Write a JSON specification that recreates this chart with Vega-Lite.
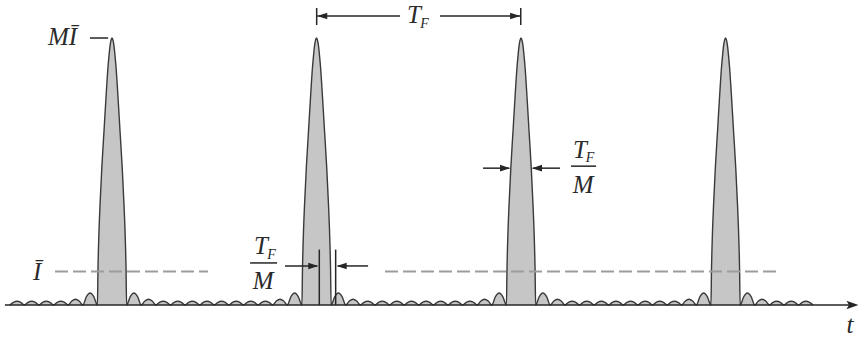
{
 "$schema": "https://vega.github.io/schema/vega-lite/v6.json",
 "width": 863, "height": 338, "padding": 0, "autosize": {"type": "none"},
 "background": "white",
 "config": {"view": {"stroke": null}},
 "datasets": {
  "curve": [
   {"t":-7,"I":0},
   {"t":-6.75,"I":0.08},{"t":-6.5,"I":0.11},{"t":-6.25,"I":0.08},{"t":-6,"I":0},
   {"t":-5.75,"I":0.08},{"t":-5.5,"I":0.11},{"t":-5.25,"I":0.08},{"t":-5,"I":0},
   {"t":-4.75,"I":0.08},{"t":-4.5,"I":0.11},{"t":-4.25,"I":0.08},{"t":-4,"I":0},
   {"t":-3.75,"I":0.08},{"t":-3.5,"I":0.11},{"t":-3.25,"I":0.08},{"t":-3,"I":0},
   {"t":-2.75,"I":0.12},{"t":-2.5,"I":0.17},{"t":-2.25,"I":0.12},{"t":-2,"I":0},
   {"t":-1.75,"I":0.25},{"t":-1.5,"I":0.36},{"t":-1.25,"I":0.25},{"t":-1,"I":0},
   {"t":-0.96,"I":1.1},{"t":-0.9,"I":2.1},{"t":-0.82,"I":3.0},{"t":-0.7,"I":4.1},{"t":-0.55,"I":5.2},{"t":-0.4,"I":6.3},{"t":-0.28,"I":7.1},{"t":-0.21,"I":7.45},{"t":-0.14,"I":7.75},{"t":-0.07,"I":7.93},
   {"t":0,"I":8},
   {"t":0.07,"I":7.93},{"t":0.14,"I":7.75},{"t":0.21,"I":7.45},{"t":0.28,"I":7.1},{"t":0.4,"I":6.3},{"t":0.55,"I":5.2},{"t":0.7,"I":4.1},{"t":0.82,"I":3.0},{"t":0.9,"I":2.1},{"t":0.96,"I":1.1},{"t":1,"I":0},
   {"t":1.25,"I":0.25},{"t":1.5,"I":0.36},{"t":1.75,"I":0.25},{"t":2,"I":0},
   {"t":2.25,"I":0.12},{"t":2.5,"I":0.17},{"t":2.75,"I":0.12},{"t":3,"I":0},
   {"t":3.25,"I":0.08},{"t":3.5,"I":0.11},{"t":3.75,"I":0.08},{"t":4,"I":0},
   {"t":4.25,"I":0.08},{"t":4.5,"I":0.11},{"t":4.75,"I":0.08},{"t":5,"I":0},
   {"t":5.25,"I":0.08},{"t":5.5,"I":0.11},{"t":5.75,"I":0.08},{"t":6,"I":0},
   {"t":6.25,"I":0.08},{"t":6.5,"I":0.11},{"t":6.75,"I":0.08},{"t":7,"I":0},
   {"t":7.25,"I":0.08},{"t":7.5,"I":0.11},{"t":7.75,"I":0.08},{"t":8,"I":0},
   {"t":8.25,"I":0.08},{"t":8.5,"I":0.11},{"t":8.75,"I":0.08},{"t":9,"I":0},
   {"t":9.25,"I":0.08},{"t":9.5,"I":0.11},{"t":9.75,"I":0.08},{"t":10,"I":0},
   {"t":10.25,"I":0.08},{"t":10.5,"I":0.11},{"t":10.75,"I":0.08},{"t":11,"I":0},
   {"t":11.25,"I":0.12},{"t":11.5,"I":0.17},{"t":11.75,"I":0.12},{"t":12,"I":0},
   {"t":12.25,"I":0.25},{"t":12.5,"I":0.36},{"t":12.75,"I":0.25},{"t":13,"I":0},
   {"t":13.04,"I":1.1},{"t":13.1,"I":2.1},{"t":13.18,"I":3.0},{"t":13.3,"I":4.1},{"t":13.45,"I":5.2},{"t":13.6,"I":6.3},{"t":13.72,"I":7.1},{"t":13.79,"I":7.45},{"t":13.86,"I":7.75},{"t":13.93,"I":7.93},
   {"t":14,"I":8},
   {"t":14.07,"I":7.93},{"t":14.14,"I":7.75},{"t":14.21,"I":7.45},{"t":14.28,"I":7.1},{"t":14.4,"I":6.3},{"t":14.55,"I":5.2},{"t":14.7,"I":4.1},{"t":14.82,"I":3.0},{"t":14.9,"I":2.1},{"t":14.96,"I":1.1},{"t":15,"I":0},
   {"t":15.25,"I":0.25},{"t":15.5,"I":0.36},{"t":15.75,"I":0.25},{"t":16,"I":0},
   {"t":16.25,"I":0.12},{"t":16.5,"I":0.17},{"t":16.75,"I":0.12},{"t":17,"I":0},
   {"t":17.25,"I":0.08},{"t":17.5,"I":0.11},{"t":17.75,"I":0.08},{"t":18,"I":0},
   {"t":18.25,"I":0.08},{"t":18.5,"I":0.11},{"t":18.75,"I":0.08},{"t":19,"I":0},
   {"t":19.25,"I":0.08},{"t":19.5,"I":0.11},{"t":19.75,"I":0.08},{"t":20,"I":0},
   {"t":20.25,"I":0.08},{"t":20.5,"I":0.11},{"t":20.75,"I":0.08},{"t":21,"I":0},
   {"t":21.25,"I":0.08},{"t":21.5,"I":0.11},{"t":21.75,"I":0.08},{"t":22,"I":0},
   {"t":22.25,"I":0.08},{"t":22.5,"I":0.11},{"t":22.75,"I":0.08},{"t":23,"I":0},
   {"t":23.25,"I":0.08},{"t":23.5,"I":0.11},{"t":23.75,"I":0.08},{"t":24,"I":0},
   {"t":24.25,"I":0.08},{"t":24.5,"I":0.11},{"t":24.75,"I":0.08},{"t":25,"I":0},
   {"t":25.25,"I":0.12},{"t":25.5,"I":0.17},{"t":25.75,"I":0.12},{"t":26,"I":0},
   {"t":26.25,"I":0.25},{"t":26.5,"I":0.36},{"t":26.75,"I":0.25},{"t":27,"I":0},
   {"t":27.04,"I":1.1},{"t":27.1,"I":2.1},{"t":27.18,"I":3.0},{"t":27.3,"I":4.1},{"t":27.45,"I":5.2},{"t":27.6,"I":6.3},{"t":27.72,"I":7.1},{"t":27.79,"I":7.45},{"t":27.86,"I":7.75},{"t":27.93,"I":7.93},
   {"t":28,"I":8},
   {"t":28.07,"I":7.93},{"t":28.14,"I":7.75},{"t":28.21,"I":7.45},{"t":28.28,"I":7.1},{"t":28.4,"I":6.3},{"t":28.55,"I":5.2},{"t":28.7,"I":4.1},{"t":28.82,"I":3.0},{"t":28.9,"I":2.1},{"t":28.96,"I":1.1},{"t":29,"I":0},
   {"t":29.25,"I":0.25},{"t":29.5,"I":0.36},{"t":29.75,"I":0.25},{"t":30,"I":0},
   {"t":30.25,"I":0.12},{"t":30.5,"I":0.17},{"t":30.75,"I":0.12},{"t":31,"I":0},
   {"t":31.25,"I":0.08},{"t":31.5,"I":0.11},{"t":31.75,"I":0.08},{"t":32,"I":0},
   {"t":32.25,"I":0.08},{"t":32.5,"I":0.11},{"t":32.75,"I":0.08},{"t":33,"I":0},
   {"t":33.25,"I":0.08},{"t":33.5,"I":0.11},{"t":33.75,"I":0.08},{"t":34,"I":0},
   {"t":34.25,"I":0.08},{"t":34.5,"I":0.11},{"t":34.75,"I":0.08},{"t":35,"I":0},
   {"t":35.25,"I":0.08},{"t":35.5,"I":0.11},{"t":35.75,"I":0.08},{"t":36,"I":0},
   {"t":36.25,"I":0.08},{"t":36.5,"I":0.11},{"t":36.75,"I":0.08},{"t":37,"I":0},
   {"t":37.25,"I":0.08},{"t":37.5,"I":0.11},{"t":37.75,"I":0.08},{"t":38,"I":0},
   {"t":38.25,"I":0.08},{"t":38.5,"I":0.11},{"t":38.75,"I":0.08},{"t":39,"I":0},
   {"t":39.25,"I":0.12},{"t":39.5,"I":0.17},{"t":39.75,"I":0.12},{"t":40,"I":0},
   {"t":40.25,"I":0.25},{"t":40.5,"I":0.36},{"t":40.75,"I":0.25},{"t":41,"I":0},
   {"t":41.04,"I":1.1},{"t":41.1,"I":2.1},{"t":41.18,"I":3.0},{"t":41.3,"I":4.1},{"t":41.45,"I":5.2},{"t":41.6,"I":6.3},{"t":41.72,"I":7.1},{"t":41.79,"I":7.45},{"t":41.86,"I":7.75},{"t":41.93,"I":7.93},
   {"t":42,"I":8},
   {"t":42.07,"I":7.93},{"t":42.14,"I":7.75},{"t":42.21,"I":7.45},{"t":42.28,"I":7.1},{"t":42.4,"I":6.3},{"t":42.55,"I":5.2},{"t":42.7,"I":4.1},{"t":42.82,"I":3.0},{"t":42.9,"I":2.1},{"t":42.96,"I":1.1},{"t":43,"I":0},
   {"t":43.25,"I":0.25},{"t":43.5,"I":0.36},{"t":43.75,"I":0.25},{"t":44,"I":0},
   {"t":44.25,"I":0.12},{"t":44.5,"I":0.17},{"t":44.75,"I":0.12},{"t":45,"I":0},
   {"t":45.25,"I":0.08},{"t":45.5,"I":0.11},{"t":45.75,"I":0.08},{"t":46,"I":0},
   {"t":46.25,"I":0.08},{"t":46.5,"I":0.11},{"t":46.75,"I":0.08},{"t":47,"I":0},
   {"t":47.25,"I":0.08},{"t":47.5,"I":0.11},{"t":47.75,"I":0.08},{"t":48,"I":0}
  ],
  "dashed": [
   {"t":-3.9,"t2":6.57,"I":1.0},
   {"t":18.69,"t2":45.7,"I":1.0}
  ],
  "hlines": [
   {"t":-7.33,"t2":50.6,"I":0},
   {"t":-1.51,"t2":-0.27,"I":8.0},
   {"t":14.05,"t2":19.72,"I":8.66},
   {"t":22.45,"t2":27.94,"I":8.66},
   {"t":25.4,"t2":27.2,"I":4.1},
   {"t":28.8,"t2":30.67,"I":4.1},
   {"t":11.84,"t2":14.05,"I":1.17},
   {"t":15.45,"t2":17.53,"I":1.17},
   {"t":31.42,"t2":33.14,"I":4.16},
   {"t":9.45,"t2":11.3,"I":1.26}
  ],
  "vlines": [
   {"t":14.01,"I":8.39,"I2":8.9},
   {"t":27.98,"I":8.39,"I2":8.9},
   {"t":14.19,"I":0,"I2":1.66},
   {"t":15.31,"I":0,"I2":1.66}
  ],
  "heads": [
   {"t":14.05,"I":8.66,"dir":"left"},
   {"t":27.94,"I":8.66,"dir":"right"},
   {"t":27.25,"I":4.1,"dir":"right"},
   {"t":28.75,"I":4.1,"dir":"left"},
   {"t":14.12,"I":1.17,"dir":"right"},
   {"t":15.38,"I":1.17,"dir":"left"},
   {"t":51.1,"I":0,"dir":"axis"}
  ],
  "labels": [
   {"t":-3.39,"I":7.79,"label":"MĪ"},
   {"t":-5.13,"I":0.75,"label":"Ī"},
   {"t":20.67,"I":8.45,"label":"T"},
   {"t":32.04,"I":4.4,"label":"T"},
   {"t":32.25,"I":3.36,"label":"M"},
   {"t":10.2,"I":1.53,"label":"T"},
   {"t":10.34,"I":0.48,"label":"M"},
   {"t":50.52,"I":-0.84,"label":"t"}
  ],
  "subs": [
   {"t":21.39,"I":8.3,"label":"F"},
   {"t":32.72,"I":4.28,"label":"F"},
   {"t":10.92,"I":1.38,"label":"F"}
  ]
 },
 "encoding": {
  "x": {"field": "t", "type": "quantitative", "scale": {"domain": [-7.668, 51.41], "nice": false, "zero": false}, "axis": null},
  "y": {"field": "I", "type": "quantitative", "scale": {"domain": [-0.989, 9.139], "nice": false, "zero": false}, "axis": null}
 },
 "layer": [
  {
   "data": {"name": "curve"},
   "mark": {"type": "area", "interpolate": "monotone", "color": "#c6c6c6", "opacity": 1, "line": {"color": "#3a3a3a", "strokeWidth": 1.4}}
  },
  {
   "data": {"name": "dashed"},
   "mark": {"type": "rule", "color": "#9c9c9c", "strokeWidth": 2, "strokeDash": [13, 5]},
   "encoding": {"x2": {"field": "t2"}}
  },
  {
   "data": {"name": "hlines"},
   "mark": {"type": "rule", "color": "#262626", "strokeWidth": 1.5},
   "encoding": {"x2": {"field": "t2"}}
  },
  {
   "data": {"name": "vlines"},
   "mark": {"type": "rule", "color": "#262626", "strokeWidth": 1.5},
   "encoding": {"y2": {"field": "I2"}}
  },
  {
   "data": {"name": "heads"},
   "mark": {"type": "point", "filled": true, "size": 400, "opacity": 1, "color": "#262626", "strokeWidth": 0},
   "encoding": {
    "shape": {"field": "dir", "type": "nominal", "legend": null,
     "scale": {"domain": ["right", "left", "axis"], "range": ["M0,0L-1,-0.33L-1,0.33Z", "M0,0L1,-0.33L1,0.33Z", "M0,0L-1.2,-0.42L-0.95,0L-1.2,0.42Z"]}}
   }
  },
  {
   "data": {"name": "labels"},
   "mark": {"type": "text", "font": "Liberation Serif", "fontStyle": "italic", "fontSize": 25, "color": "#2a2a2a", "align": "center", "baseline": "alphabetic"},
   "encoding": {"text": {"field": "label"}}
  },
  {
   "data": {"name": "subs"},
   "mark": {"type": "text", "font": "Liberation Serif", "fontStyle": "italic", "fontSize": 14, "color": "#2a2a2a", "align": "center", "baseline": "alphabetic"},
   "encoding": {"text": {"field": "label"}}
  }
 ]
}
